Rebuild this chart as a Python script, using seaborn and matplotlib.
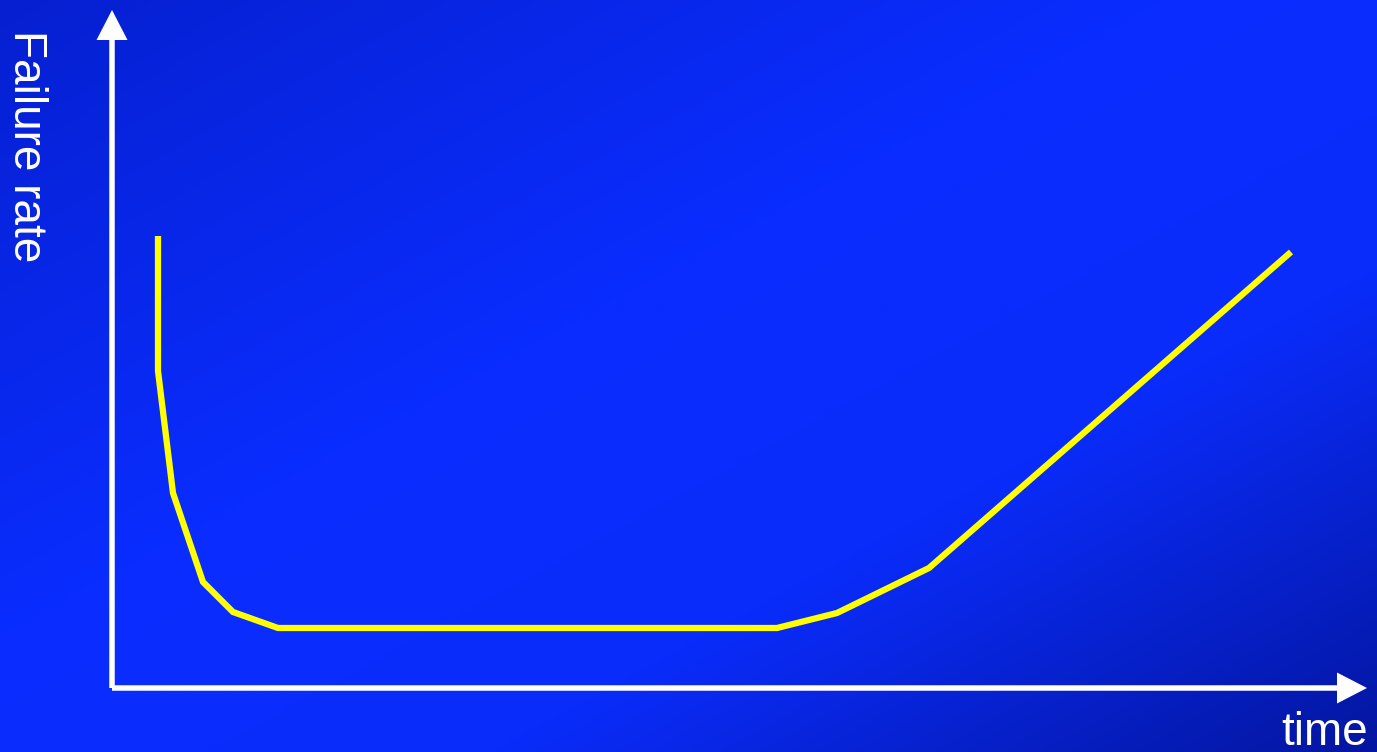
import numpy as np
import pandas as pd
import matplotlib
matplotlib.use("Agg")
import matplotlib.pyplot as plt
from matplotlib.patches import FancyArrow
import seaborn as sns

# Bathtub curve: failure rate against time (arbitrary units)
time = [46, 46, 61, 91, 121, 166, 665, 725, 817, 1179]
failure_rate = [452, 317, 195, 106, 76, 60, 60, 75, 120, 436]

x_label = "time"
y_label = "Failure rate"

W, H = 1377, 752
sns.set_theme(style="white")
plt.rcParams["font.family"] = ["Liberation Sans", "DejaVu Sans"]

fig = plt.figure(figsize=(W / 100, H / 100), dpi=100)
ax = fig.add_axes([0, 0, 1, 1])
ax.set_xlim(-112, W - 112)
ax.set_ylim(688 - H, 688)
ax.set_axis_off()

# Diagonal blue gradient background
gx, gy = np.meshgrid(np.linspace(0, 1, 400), np.linspace(0, 1, 220))
t = (gx + gy) / 2  # 0 at top-left, 1 at bottom-right
stops = np.array([0.0, 0.42, 0.68, 1.0])
cols = np.array([[6, 32, 208], [10, 45, 255], [10, 44, 250], [4, 22, 160]]) / 255.0
img = np.stack([np.interp(t, stops, cols[:, k]) for k in range(3)], axis=-1)
ax.imshow(img, extent=(-112, W - 112, 688 - H, 688), origin="upper",
          aspect="auto", zorder=0, interpolation="bilinear")

# Axes drawn as arrows
ax.add_patch(FancyArrow(0, 0, 1255, 0, width=5.5, head_width=31, head_length=30,
                        length_includes_head=True, color="white", lw=0, zorder=2))
ax.add_patch(FancyArrow(0, 0, 0, 678, width=5.5, head_width=31, head_length=30,
                        length_includes_head=True, color="white", lw=0, zorder=2))

df = pd.DataFrame({"time": time, "rate": failure_rate})
sns.lineplot(data=df, x="time", y="rate", sort=False, color="#ffff00",
             linewidth=4.5, ax=ax, zorder=3, estimator=None,
             solid_capstyle="butt", solid_joinstyle="miter")
ax.set_xlim(-112, W - 112)
ax.set_ylim(688 - H, 688)

ax.text(1256, -57, x_label, color="white", fontsize=33, ha="right",
        va="baseline", zorder=4)
ax.text(-108, 658, y_label, color="white", fontsize=33, rotation=270,
        ha="left", va="top", zorder=4)

fig.savefig("out.png", dpi=100)
